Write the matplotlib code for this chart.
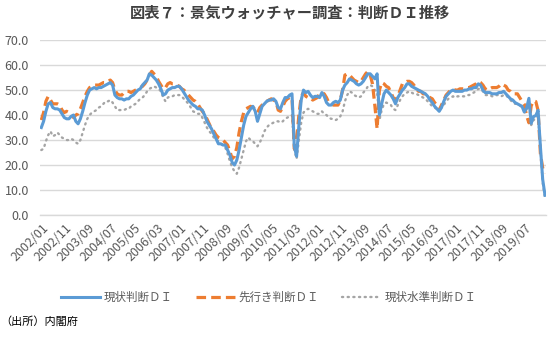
import numpy as np
import pandas as pd
import matplotlib
matplotlib.use("Agg")
import matplotlib.pyplot as plt
from matplotlib.transforms import ScaledTranslation

plt.rcParams.update({
    "font.family": ["Noto Sans CJK JP", "DejaVu Sans"],
    "font.size": 8, "axes.spines.top": False, "axes.spines.right": False,
    "axes.spines.left": False, "figure.dpi": 100,
})

# monthly DI, 2002/01 - 2020/04 (one row per year)
genjo = [
    35.0, 37.5, 41.5, 44.5, 45.0, 43.0, 42.5, 42.5, 42.0, 40.5, 39.0, 38.5,
    38.5, 39.5, 40.0, 37.5, 36.5, 38.5, 41.5, 45.0, 48.0, 50.0, 50.5, 51.0,
    50.5, 51.0, 51.0, 51.5, 52.0, 52.5, 53.0, 52.0, 48.0, 47.0, 46.5, 46.5,
    46.0, 46.5, 46.5, 47.5, 48.0, 49.0, 50.0, 50.5, 52.0, 53.0, 54.0, 56.5,
    56.0, 55.0, 54.0, 52.5, 50.5, 48.0, 48.5, 50.0, 50.5, 51.0, 51.0, 51.5,
    51.5, 50.5, 49.0, 47.5, 46.0, 45.0, 44.0, 43.5, 42.5, 42.5, 42.0, 40.0,
    37.5, 36.0, 34.5, 32.5, 30.5, 28.5, 28.5, 28.0, 28.0, 26.0, 24.0, 21.0,
    20.0, 22.0, 26.0, 31.0, 36.0, 39.5, 41.0, 42.5, 43.5, 41.5, 37.5, 40.5,
    43.5, 44.5, 45.5, 46.0, 46.0, 46.5, 45.5, 43.0, 42.5, 45.0, 47.0, 47.0,
    48.0, 48.5, 27.5, 23.5, 36.0, 46.0, 50.0, 49.0, 49.5, 48.0, 47.0, 47.5,
    47.5, 47.0, 49.0, 47.5, 45.0, 44.0, 44.0, 45.0, 45.5, 45.0, 46.0, 50.0,
    52.0, 53.0, 54.5, 54.0, 53.5, 52.5, 52.0, 52.5, 53.5, 55.0, 56.5, 56.5,
    55.5, 54.5, 56.5, 40.0, 44.5, 48.5, 50.0, 49.0, 48.0, 46.5, 44.5, 47.0,
    48.5, 50.0, 51.0, 52.5, 52.5, 51.5, 51.0, 50.5, 50.0, 49.5, 49.0, 48.5,
    47.5, 46.0, 45.0, 43.5, 42.5, 41.5, 43.0, 45.5, 47.5, 48.5, 49.5, 50.0,
    49.5, 49.5, 49.5, 49.5, 50.0, 50.0, 50.5, 50.5, 51.0, 51.0, 52.5, 52.0,
    50.0, 49.0, 49.0, 49.0, 48.5, 48.5, 48.5, 49.0, 49.0, 49.5, 48.5, 47.5,
    46.5, 46.0, 45.0, 44.5, 44.0, 43.5, 41.2, 42.8, 46.7, 36.7, 39.4, 39.8,
    41.9, 27.4, 14.2, 7.9,
]
sakiyuki = [
    38.0, 41.0, 45.5, 47.5, 46.0, 44.5, 44.5, 44.5, 44.0, 42.0, 41.0, 41.5,
    41.0, 40.5, 39.0, 40.0, 40.5, 42.5, 45.0, 47.5, 49.5, 51.0, 51.5, 52.0,
    52.0, 52.0, 52.5, 53.0, 53.0, 53.5, 54.0, 53.0, 50.0, 48.5, 48.0, 48.0,
    49.0, 49.5, 49.5, 49.0, 49.5, 50.0, 50.5, 51.0, 51.5, 52.5, 54.0, 56.0,
    57.5, 56.5, 55.5, 53.5, 52.0, 50.5, 51.0, 52.5, 53.0, 52.5, 52.5, 52.0,
    51.5, 50.5, 50.0, 49.0, 48.0, 47.0, 46.0, 45.5, 44.5, 43.0, 41.5, 40.5,
    38.5, 36.5, 34.5, 33.5, 32.0, 31.0, 30.5, 30.0, 29.0, 28.0, 25.5, 22.5,
    23.5, 27.0, 33.0, 37.5, 41.0, 42.5, 43.0, 43.5, 43.0, 42.5, 41.0, 43.0,
    44.0, 45.0, 45.5, 46.0, 46.5, 46.0, 45.5, 42.0, 41.5, 43.5, 45.5, 46.5,
    47.0, 47.0, 26.5, 30.0, 40.0, 47.5, 49.0, 47.5, 47.0, 47.0, 46.0, 46.5,
    47.0, 48.5, 49.0, 48.5, 47.0, 45.0, 44.5, 44.0, 44.0, 44.0, 46.0, 50.0,
    56.0, 56.5, 56.0, 55.0, 54.0, 53.5, 53.0, 53.5, 55.0, 56.5, 57.5, 56.0,
    52.5, 44.0, 34.5, 50.0, 53.0, 52.5, 51.5, 51.0, 49.0, 47.0, 46.0, 47.5,
    50.0, 52.5, 53.0, 53.5, 53.5, 53.0, 52.0, 50.5, 49.5, 49.5, 48.5, 48.5,
    48.0, 47.0, 46.5, 45.0, 44.0, 42.0, 44.0, 46.0, 48.0, 49.0, 50.0, 50.5,
    50.0, 50.0, 50.5, 50.5, 50.5, 51.0, 51.0, 51.5, 52.0, 52.5, 53.5, 53.0,
    52.0, 50.5, 50.0, 50.5, 51.0, 51.0, 51.0, 51.5, 52.5, 52.0, 51.5, 50.0,
    49.5, 48.5, 48.5, 48.5, 47.0, 45.5, 44.3, 39.7, 36.9, 43.7, 45.7, 45.4,
    41.8, 24.6, 18.8, 16.6,
]
suijun = [
    26.0, 26.5, 29.5, 32.0, 33.5, 31.5, 32.0, 33.0, 32.0, 31.0, 30.5, 30.0,
    30.0, 30.5, 30.0, 29.0, 28.5, 30.0, 33.0, 36.0, 38.5, 40.0, 41.0, 41.5,
    42.0, 43.0, 43.5, 44.5, 45.5, 45.5, 46.0, 45.0, 43.5, 42.0, 42.0, 42.0,
    42.0, 42.5, 42.5, 43.5, 44.0, 44.5, 45.5, 46.5, 47.0, 48.0, 49.5, 50.5,
    51.0, 51.5, 51.0, 50.5, 49.5, 47.0, 45.5, 47.0, 47.5, 47.5, 48.0, 48.0,
    48.0, 47.5, 46.5, 45.5, 44.5, 43.0, 41.5, 41.0, 40.5, 40.5, 39.0, 37.0,
    35.0, 33.5, 32.5, 31.0, 30.0, 29.5, 28.5, 28.0, 27.0, 24.5, 21.5, 19.0,
    17.5, 16.5, 19.0, 22.5, 26.0, 29.5, 31.0, 30.0, 29.5, 28.5, 27.5, 29.0,
    31.0, 33.5, 35.0, 36.0, 36.5, 37.0, 37.5, 37.5, 37.0, 37.5, 38.5, 39.0,
    39.5, 40.0, 26.0, 22.5, 30.0, 37.0, 41.0, 42.0, 42.5, 42.0, 41.5, 41.0,
    40.5, 40.5, 41.5, 40.5, 40.0, 39.0, 38.5, 38.5, 38.0, 38.5, 39.5, 41.5,
    45.5, 48.0, 49.5, 49.0, 48.0, 47.5, 47.0, 47.5, 49.0, 50.0, 51.5, 52.0,
    51.5, 50.0, 49.5, 38.0, 42.0, 44.5, 45.0, 44.5, 44.0, 42.5, 42.0, 44.0,
    46.0, 47.5, 48.5, 49.0, 49.5, 49.0, 48.5, 48.5, 48.0, 47.5, 47.0, 46.5,
    45.5, 44.5, 43.5, 43.0, 42.5, 42.5, 43.0, 44.0, 45.5, 46.5, 47.0, 47.5,
    47.0, 47.5, 47.5, 47.5, 47.5, 48.0, 48.0, 48.5, 49.0, 49.5, 50.5, 50.5,
    49.5, 48.0, 48.0, 48.0, 47.5, 47.5, 48.0, 48.0, 47.5, 48.0, 48.0, 47.0,
    46.0, 45.0, 44.5, 44.5, 44.0, 43.0, 41.5, 42.0, 45.0, 36.0, 38.0, 38.5,
    39.5, 27.0, 13.0, 7.0,
]
months = pd.date_range("2002-01", periods=len(genjo), freq="MS").strftime("%Y/%m")
labels = ["現状判断ＤＩ", "先行き判断ＤＩ", "現状水準判断ＤＩ"]

GRID = "#d9d9d9"
TXT = "#595959"

fig = plt.figure(figsize=(5.5, 3.37))
ax = fig.add_axes([0.073, 0.362, 0.920, 0.519])
x = np.arange(len(months))
ax.plot(x, genjo, color="#5B9BD5", lw=2.2, label=labels[0], zorder=3)
ax.plot(x, sakiyuki, color="#ED7D31", lw=2.3, ls=(0, (3.0, 1.6)),
        label=labels[1], zorder=2)
ax.plot(x, suijun, color="#A5A5A5", lw=1.7, ls=(0, (0.5, 1.9)),
        dash_capstyle="round", label=labels[2], zorder=1)

ax.set_xlim(-0.5, len(months) - 0.5)
ax.set_ylim(0, 70)
ax.set_yticks(np.arange(0, 71, 10))
ax.set_yticklabels([f"{v:.1f}" for v in np.arange(0, 71, 10)])
ax.grid(axis="y", color=GRID, lw=1.0)
ax.set_axisbelow(True)
ax.spines["bottom"].set_color(GRID)
ax.spines["bottom"].set_linewidth(1.0)
ax.tick_params(length=0, colors=TXT, labelsize=9)
ax.tick_params(axis="y", pad=8)

ax.set_xticks(x[::10])
ax.set_xticklabels(months[::10], rotation=45, ha="right", va="center",
                   rotation_mode="anchor", fontsize=9)
ax.tick_params(axis="x", pad=8)
shift = ScaledTranslation(5 / 100, 0, fig.dpi_scale_trans)
for lbl in ax.get_xticklabels():
    lbl.set_transform(lbl.get_transform() + shift)

fig.text(0.527, 0.963, "図表７：景気ウォッチャー調査：判断ＤＩ推移",
         ha="center", va="center", fontsize=11, fontweight="bold",
         color="#404040")
fig.legend(loc="center", bbox_to_anchor=(0.489, 0.118), ncol=3, frameon=False,
           fontsize=8.3, handlelength=3.4, columnspacing=2.0, labelcolor=TXT,
           handletextpad=0.3)
fig.text(0.0, 0.045, "（出所）内閣府", ha="left", va="center", fontsize=8)

fig.savefig("out.png", dpi=100)
